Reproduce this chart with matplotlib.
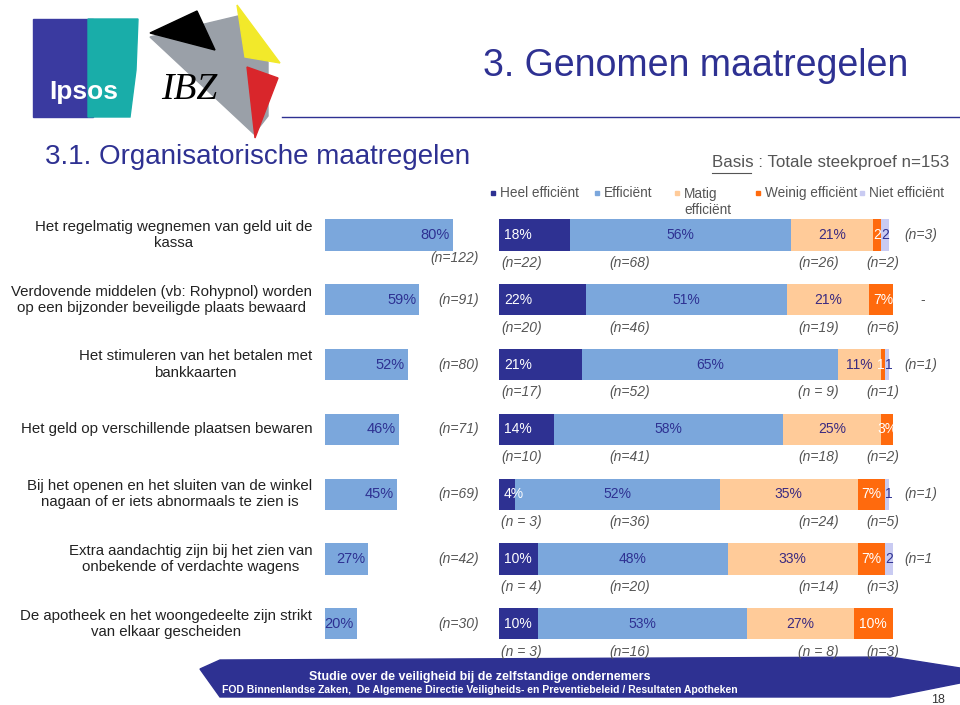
import matplotlib
matplotlib.use('Agg')
from matplotlib import pyplot as plt
from matplotlib.patches import Polygon, Rectangle

plt.rcParams['font.family'] = ['Liberation Sans', 'DejaVu Sans']

# ---- data ----
categories = [
    'Het regelmatig wegnemen van geld uit de\nkassa',
    'Verdovende middelen (vb: Rohypnol) worden\nop een bijzonder beveiligde plaats bewaard',
    'Het stimuleren van het betalen met\nbankkaarten',
    'Het geld op verschillende plaatsen bewaren',
    'Bij het openen en het sluiten van de winkel\nnagaan of er iets abnormaals te zien is',
    'Extra aandachtig zijn bij het zien van\nonbekende of verdachte wagens',
    'De apotheek en het woongedeelte zijn strikt\nvan elkaar gescheiden',
]
applied_pct = [80, 59, 52, 46, 45, 27, 20]
applied_n = ['(n=122)', '(n=91)', '(n=80)', '(n=71)', '(n=69)', '(n=42)', '(n=30)']

series_names = ['Heel efficiënt', 'Efficiënt', 'Matig\nefficiënt', 'Weinig efficiënt', 'Niet efficiënt']
heel = [18, 22, 21, 14, 4, 10, 10]
efficient = [56, 51, 65, 58, 52, 48, 53]
matig = [21, 21, 11, 25, 35, 33, 27]
weinig = [2, 7, 1, 3, 7, 7, 10]
niet = [2, 0, 1, 0, 1, 2, 0]

n_heel = ['(n=22)', '(n=20)', '(n=17)', '(n=10)', '(n = 3)', '(n = 4)', '(n = 3)']
n_eff = ['(n=68)', '(n=46)', '(n=52)', '(n=41)', '(n=36)', '(n=20)', '(n=16)']
n_matig = ['(n=26)', '(n=19)', '(n = 9)', '(n=18)', '(n=24)', '(n=14)', '(n = 8)']
n_weinig = ['(n=2)', '(n=6)', '(n=1)', '(n=2)', '(n=5)', '(n=3)', '(n=3)']
n_niet = ['(n=3)', '-', '(n=1)', '', '(n=1)', '(n=1', '']

colors = ['#2E3192', '#7BA7DC', '#FFCB99', '#FF6A0D', '#C9CBF2']
label_colors = ['white', '#2E3192', '#3B2A80', 'white', '#2E3192']
navy = '#2E3192'
grey = '#555555'

W, H = 960, 705
fig = plt.figure(figsize=(9.6, 7.05), dpi=100)


def px_axes(left, top, width, height):
    return fig.add_axes([left / W, 1 - (top + height) / H, width / W, height / H])


# background axes in pixel coordinates for header / footer
bg = px_axes(0, 0, W, H)
bg.set_xlim(0, W)
bg.set_ylim(H, 0)
bg.axis('off')

# Ipsos logo
bg.add_patch(Rectangle((33, 19), 60, 98, color='#3A3AA0'))
bg.add_patch(Polygon([(88, 19), (138, 19), (136, 70), (130, 117), (88, 117)], color='#19ADA9'))
bg.text(84, 92, 'Ipsos', color='white', fontsize=19, fontweight='bold', ha='center', va='center')

# IBZ logo
bg.add_patch(Polygon([(150, 37), (238, 16), (268, 62), (268, 116), (254, 134)], color='#9AA0A8'))
bg.add_patch(Polygon([(150, 33), (197, 11), (215, 50)], color='black'))
bg.add_patch(Polygon([(237, 5), (280, 63), (245, 57)], color='#F2E92A'))
bg.add_patch(Polygon([(247, 67), (278, 78), (255, 138)], color='#D9262B'))
bg.text(189, 90, 'IBZ', color='black', fontsize=27, fontstyle='italic',
        family=['Liberation Serif', 'DejaVu Serif'], ha='center', va='center')

bg.plot([282, 960], [117, 117], color=navy, lw=1)
bg.text(483, 66, '3. Genomen maatregelen', color=navy, fontsize=27, va='center', ha='left')
bg.text(45, 157, '3.1. Organisatorische maatregelen', color=navy, fontsize=20, va='center', ha='left')
bg.text(712, 163, 'Basis : Totale steekproef n=153', color=grey, fontsize=12.2, va='center', ha='left')
bg.plot([712, 751], [173, 173], color=grey, lw=0.8)

# legend
leg_x = [493, 597, 677, 758, 862]
for i, name in enumerate(series_names):
    bg.plot(leg_x[i], 193, marker='s', markersize=3.5, color=colors[i], ls='none')
    bg.text(leg_x[i] + 7, 193 if '\n' not in name else 202, name, color=grey, fontsize=9.8,
            va='center', ha='left', linespacing=1.1)

# footer band
bg.add_patch(Polygon([(200, 669), (220, 660), (890, 657), (960, 668), (960, 683), (890, 697), (220, 697)],
                     color=navy))
bg.text(480, 677, 'Studie over de veiligheid bij de zelfstandige ondernemers', color='white',
        fontsize=9, fontweight='bold', ha='center', va='center')
bg.text(480, 690, 'FOD Binnenlandse Zaken,  De Algemene Directie Veiligheids- en Preventiebeleid / Resultaten Apotheken',
        color='white', fontsize=7.5, fontweight='bold', ha='center', va='center')
bg.text(938, 700, '18', color='#333333', fontsize=9, ha='center', va='center')

# row geometry
row_top = 235 - 32.4
row_h = 64.8 * len(categories)
rows = list(range(len(categories)))
bar_h = 0.48

# left bars: share that applies the measure
axl = px_axes(325, row_top, 160, row_h)
axl.set_xlim(0, 100)
axl.set_ylim(len(categories) - 0.5, -0.5)
axl.axis('off')
axl.barh(rows, applied_pct, height=bar_h, color=colors[1])
for i in rows:
    axl.text(applied_pct[i] - 2, i, f'{applied_pct[i]}%', color=navy, fontsize=10.5, ha='right', va='center')
    ny = i + 0.36 if i == 0 else i
    axl.text(96, ny, applied_n[i], color=grey, fontsize=10, fontstyle='italic', ha='right', va='center')
    axl.text(-8, i, categories[i], color='#222222', fontsize=10.8, ha='right', va='center',
             multialignment='center', linespacing=1.2)

# right stacked bars: efficiency
axr = px_axes(499, row_top, 394, row_h)
axr.set_xlim(0, 100)
axr.set_ylim(len(categories) - 0.5, -0.5)
axr.axis('off')
series = [heel, efficient, matig, weinig, niet]
left = [0] * len(categories)
for s, vals in enumerate(series):
    axr.barh(rows, vals, left=left, height=bar_h, color=colors[s])
    for i in rows:
        v = vals[i]
        if v == 0:
            continue
        txt = f'{v}%' if v >= 3 else str(v)
        if s == 0:
            axr.text(left[i] + 1.3, i, txt, color=label_colors[s], fontsize=10, ha='left', va='center')
        elif v < 3 and s == 3:
            axr.text(left[i] + v, i, txt, color=label_colors[s], fontsize=10, ha='right', va='center')
        elif v < 3 and s == 4:
            axr.text(left[i], i, txt, color=label_colors[s], fontsize=10, ha='left', va='center')
        else:
            axr.text(left[i] + v / 2, i, txt, color=label_colors[s], fontsize=10, ha='center', va='center')
    left = [left[i] + vals[i] for i in rows]

n_cols = [(0.5, n_heel), (28, n_eff), (76, n_matig), (93.3, n_weinig)]
for i in rows:
    for x, labels in n_cols:
        axr.text(x, i + 0.43, labels[i], color=grey, fontsize=10, fontstyle='italic', ha='left', va='center')
    if n_niet[i] == '-':
        axr.text(107, i, '-', color=grey, fontsize=10, ha='left', va='center')
    elif n_niet[i]:
        axr.text(102.8, i, n_niet[i], color=grey, fontsize=10, fontstyle='italic', ha='left', va='center')

fig.savefig('out.png', dpi=100)
